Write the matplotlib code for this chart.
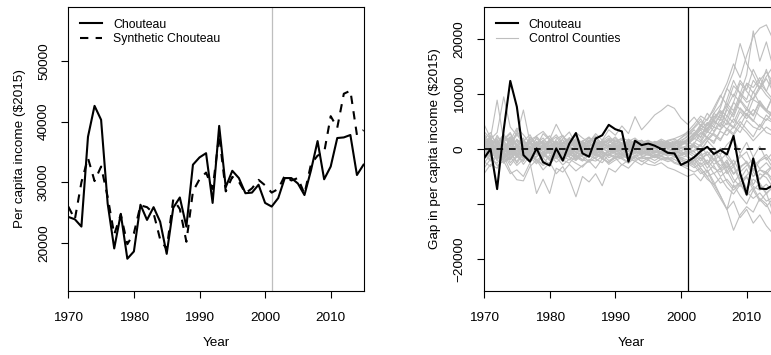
import numpy as np
import matplotlib
matplotlib.use("Agg")
import matplotlib.pyplot as plt

plt.rcParams['font.family'] = ['Liberation Sans', 'DejaVu Sans']

years = list(range(1970, 2016))
treat_year = 2001

# per capita income, $2015
chouteau = [24300, 23900, 22700, 37500, 42600, 40300, 26500, 19100, 24800, 17400,
            18600, 26300, 23800, 25900, 23500, 18200, 25800, 27500, 22700, 32900,
            34100, 34800, 26600, 39300, 29200, 31900, 30700, 28200, 28300, 29600,
            26600, 26000, 27400, 30700, 30700, 29800, 27900, 32000, 36800, 30500,
            32600, 37300, 37400, 37800, 31200, 32900]
synthetic = [26000, 23900, 30000, 34000, 30200, 32600, 27600, 21400, 24700, 19800,
             21600, 26200, 25900, 24900, 20600, 19000, 27200, 25600, 20200, 28500,
             30500, 31600, 28900, 37800, 28500, 30900, 30100, 28200, 29000, 30400,
             29500, 28300, 28900, 31100, 30300, 30700, 28100, 33000, 34400, 34900,
             40900, 39000, 44600, 45100, 37800, 38600]

# placebo gaps for the control counties, $1000s (1970-2015)
control_gaps = [
    [1.5, 0.8, 2.1, 1.0, -0.5, 1.8, 0.6, -1.2, 0.9, 1.4, 0.2, -0.6, 1.1, 0.5, 1.9, 0.7, -0.3, 1.2, 0.8, 1.5, 0.4, 1.0, -0.2, 1.3, 0.6, 0.9, 1.1, 0.3, 1.4, 1.8, 1.2, 0.8,
     2.5, 4.0, 5.5, 7.0, 9.5, 12.0, 15.5, 13.0, 17.0, 20.5, 22.0, 22.6, 20.0, 21.5],
    [-0.8, 1.6, -1.0, 2.4, 0.5, -1.5, 1.2, 0.4, -0.9, 1.0, -0.4, 1.3, 0.2, -1.1, 0.6, 1.5, 0.1, -0.7, 1.6, 0.9, -0.2, 0.5, 1.1, -0.6, 0.8, 0.2, -0.5, 0.7, 0.1, -0.3, 0.9, 1.5,
     3.0, 2.2, 4.5, 6.0, 5.2, 9.0, 12.5, 10.0, 13.5, 21.5, 16.0, 19.5, 15.0, 17.0],
    [2.6, -1.2, 0.9, 1.8, 3.0, 0.4, -0.8, 1.9, 0.6, -1.3, 1.7, 0.8, -0.2, 2.1, 1.0, -0.9, 1.4, 2.0, 0.3, 1.2, 2.2, 0.9, 0.1, 1.6, 1.1, 0.5, 0.9, 1.3, 0.7, 1.0, 2.0, 2.8,
     4.0, 5.5, 3.5, 6.5, 8.0, 11.0, 14.0, 19.2, 15.5, 13.5, 11.0, 14.5, 10.5, 12.0],
    [-1.5, 0.3, -2.2, 0.8, -1.0, -0.2, -1.8, 0.5, -0.6, -1.4, 0.1, -1.1, -0.5, 0.6, -1.9, -0.4, -1.0, 0.3, -0.8, -1.2, 0.2, -0.6, -1.3, -0.3, -0.9, -0.1, -0.7, -0.4, -1.0, -0.6, 0.1, -0.5,
     1.0, 2.8, 3.5, 5.0, 4.2, 7.5, 10.0, 8.5, 12.0, 11.2, 13.0, 10.5, 9.0, 11.5],
    [0.9, 2.0, -0.5, 1.3, 2.2, -1.0, 0.4, 1.1, -0.3, 0.7, 1.5, -0.8, 0.9, 1.8, 0.1, 0.6, 1.3, -0.4, 0.8, 0.3, 1.0, 1.6, 0.4, 0.9, -0.2, 0.6, 1.2, 0.5, 0.8, 0.2, 0.7, 1.9,
     2.8, 4.2, 3.6, 5.5, 6.8, 5.0, 8.5, 7.2, 6.0, 9.0, 8.2, 7.0, 6.5, 8.0],
    [-0.4, -2.0, 1.0, -1.5, -0.2, -2.6, -0.9, -1.7, 0.2, -1.0, -2.1, -0.3, -1.4, -0.8, -1.9, 0.1, -1.2, -0.6, -1.6, -0.9, -0.3, -1.1, -1.5, -0.7, -0.2, -0.9, -1.3, -0.6, -0.4, -1.0, -1.8, -2.4,
     -3.0, -4.5, -3.8, -6.0, -8.5, -11.0, -9.5, -12.5, -11.0, -13.5, -12.0, -14.0, -15.4, -13.0],
    [1.2, -0.6, -1.8, 0.4, 1.5, -0.9, -2.3, 0.6, -1.1, 0.2, -0.7, -1.6, 0.8, -0.4, -1.2, 0.5, -0.8, 1.0, -0.5, -1.3, 0.6, -0.2, -0.9, 0.4, -0.6, -0.3, 0.2, -0.8, -0.5, -1.1, -1.6, -1.2,
     -2.5, -4.0, -5.5, -6.5, -8.5, -11.0, -14.8, -12.0, -10.5, -11.5, -9.0, -10.0, -12.5, -9.5],
    [-2.0, 0.5, 1.6, -0.8, -1.9, 0.9, -0.2, -1.4, 1.2, -0.6, 0.3, -1.0, -2.2, 0.7, -0.5, -1.3, 0.4, -0.9, -1.8, 0.2, -0.7, -1.2, 0.1, -0.6, -1.0, -0.4, 0.2, -0.7, -1.1, -0.8, -0.3, -1.5,
     -1.8, -3.5, -5.0, -7.0, -9.0, -11.0, -6.5, -8.5, -10.0, -7.5, -9.5, -8.0, -11.5, -10.5],
    [4.5, 2.0, 8.9, 1.5, -1.0, 3.5, 0.8, -0.9, 2.2, 1.0, -0.5, 1.8, 2.5, 0.4, 1.3, -0.2, 1.0, 2.4, 0.7, 1.6, 0.9, -0.3, 1.4, 0.8, 1.1, 0.3, 0.9, 1.5, 0.6, 1.2, 2.0, 3.2,
     4.5, 6.0, 5.2, 7.5, 9.8, 8.0, 11.5, 10.2, 9.0, 12.5, 11.0, 12.8, 10.5, 11.8],
    [-0.5, 1.8, 3.0, 9.5, 4.0, 2.5, 7.1, 1.2, 0.5, 2.8, 1.6, 0.2, 1.9, 3.1, 0.8, 1.4, 2.2, 0.6, 1.5, 2.4, 1.1, 0.4, 1.8, 1.0, 1.6, 0.7, 1.2, 0.8, 1.4, 0.5, 1.1, 1.8,
     2.5, 3.8, 3.0, 4.6, 6.2, 5.1, 4.0, 6.8, 5.5, 7.2, 6.0, 5.2, 6.8, 7.5],
    [-4.5, -2.8, -3.5, -1.2, -4.0, -5.6, -5.8, -3.2, -2.0, -3.8, -2.5, -1.5, -2.9, -1.8, -2.6, -3.3, -1.9, -2.2, -1.4, -2.8, -2.0, -1.6, -2.4, -1.1, -1.8, -1.5, -2.1, -1.3, -1.7, -2.6, -3.0, -3.6,
     -4.2, -3.5, -5.0, -4.4, -6.2, -5.5, -7.0, -6.1, -5.2, -6.8, -7.5, -6.4, -7.8, -6.9],
    [1.0, -1.5, -3.0, -2.2, -4.5, -3.8, -5.0, -2.5, -8.1, -5.5, -8.1, -3.5, -4.2, -2.8, -4.0, -3.0, -2.2, -3.5, -1.8, -2.5, -1.6, -2.9, -2.0, -1.4, -2.3, -1.7, -1.2, -2.0, -1.5, -2.4, -2.8, -3.2,
     -1.5, -0.5, -2.8, -1.0, -3.5, -2.0, -4.5, -3.2, -2.5, -5.0, -3.8, -4.6, -3.0, -4.2],
    [0.3, -1.0, -0.5, -2.1, -1.5, -0.8, -2.8, -1.2, -2.0, -3.0, -2.4, -4.5, -3.2, -5.5, -8.7, -5.0, -6.0, -4.5, -6.7, -3.5, -4.2, -2.8, -3.5, -2.2, -2.9, -2.0, -2.6, -1.8, -2.3, -1.9, -2.7, -3.0,
     -2.2, -1.0, -2.8, -0.5, -1.8, -3.5, -2.0, -4.2, -3.0, -1.8, -3.6, -2.5, -4.0, -3.2],
    [1.8, 3.0, 0.5, 2.2, 1.5, 3.8, 2.6, 1.0, 2.4, 3.2, 1.8, 4.5, 2.2, 1.4, 3.0, 2.0, 1.2, 2.8, 1.6, 3.5, 2.5, 4.2, 2.8, 5.9, 3.5, 4.8, 6.2, 7.0, 8.0, 7.4, 5.6, 4.5,
     5.8, 4.2, 6.5, 5.0, 7.5, 11.0, 9.5, 12.5, 10.8, 14.5, 12.0, 10.5, 13.5, 12.2],
    [-1.0, 0.5, -1.8, -0.3, -2.5, -1.2, -0.6, -2.0, -1.4, -0.5, -1.9, -1.0, -2.3, -0.8, -1.5, -2.2, -1.1, -0.4, -1.7, -2.4, -1.2, -1.8, -2.6, -1.5, -2.2, -2.8, -3.0, -2.5, -3.4, -3.8, -4.4, -5.0,
     -4.5, -5.8, -4.0, -6.5, -5.2, -7.0, -8.2, -6.5, -7.8, -9.0, -8.0, -9.5, -8.8, -10.2],
    [0.6, -0.9, 1.4, 0.2, -0.5, 0.9, -1.1, 0.4, 1.0, -0.2, 0.7, 0.3, -0.8, 1.2, 0.1, -0.6, 0.8, 0.4, -0.3, 0.9, 0.2, 0.6, -0.4, 0.7, 0.3, 0.1, 0.5, -0.2, 0.4, 0.8, 0.3, -0.1,
     1.2, 0.5, 2.0, 1.4, 3.2, 2.5, 4.1, 3.0, 5.2, 4.0, 3.5, 5.5, 4.8, 6.0],
    [-1.2, 0.8, -0.4, -1.6, 0.5, -0.9, 0.3, -1.3, -0.2, 0.9, -0.7, -1.4, 0.2, -0.5, -1.0, 0.6, -0.3, -1.2, 0.4, -0.8, -0.5, 0.1, -0.9, -0.3, -0.6, 0.2, -0.4, -0.8, -0.1, -0.5, -0.9, -0.4,
     -1.0, -2.2, -0.5, -1.8, -3.0, -2.4, -4.5, -3.2, -2.5, -5.0, -3.8, -4.2, -5.5, -4.8],
    [2.2, 1.0, -0.6, 1.5, 2.8, 0.3, 1.6, -0.4, 1.1, 2.0, 0.5, 1.4, -0.2, 1.0, 1.8, 0.6, 1.2, -0.1, 0.9, 1.7, 0.8, 0.2, 1.3, 0.6, 0.9, 1.4, 0.7, 1.1, 0.4, 0.9, 1.6, 2.2,
     3.5, 2.0, 4.8, 3.2, 5.5, 4.4, 6.8, 9.0, 7.5, 6.2, 8.8, 7.0, 9.5, 8.2],
    [-2.6, -1.0, 0.2, -1.8, -0.7, -2.3, -0.4, -1.5, -2.7, -0.8, -1.6, 0.0, -1.3, -2.0, -0.6, -1.4, -2.2, -0.9, -0.3, -1.6, -1.0, -0.7, -1.9, -1.2, -0.5, -1.1, -1.5, -0.8, -1.3, -0.9, -1.6, -2.0,
     -2.8, -1.5, -3.5, -2.0, -1.2, -4.0, -2.8, -5.5, -3.6, -6.5, -4.5, -5.2, -7.0, -5.8],
    [0.1, 1.5, 0.8, -0.9, 1.9, 0.6, -0.5, 1.3, 0.2, 1.6, 0.9, -0.1, 1.2, 0.4, -0.7, 1.0, 0.3, 1.5, 0.6, -0.2, 0.9, 1.2, 0.5, -0.1, 0.8, 0.4, 1.0, 0.6, 0.2, 0.5, 0.9, 1.0,
     1.8, 3.0, 2.2, 4.0, 3.5, 6.0, 4.8, 7.5, 6.2, 5.0, 8.0, 6.8, 5.8, 7.2],
    [1.6, -0.3, 2.5, 0.7, -1.2, 1.1, 2.0, -0.8, 0.6, 1.3, -0.5, 0.8, 1.7, -0.2, 0.4, 1.2, -0.6, 0.9, 1.4, 0.0, 0.6, -0.3, 1.0, 0.4, -0.2, 0.6, 0.3, -0.1, 0.7, 0.2, -0.4, 0.5,
     0.8, -0.5, 1.5, 0.2, -1.0, 0.8, 2.0, -0.8, 1.2, -1.5, 0.5, -2.0, -0.6, -1.2],
    [-0.9, -2.2, -1.1, 0.5, -1.7, -0.2, -1.3, -2.4, -0.6, -1.0, -1.8, -0.4, -0.9, -1.5, -2.1, -0.7, -1.2, -1.8, -0.5, -1.1, -1.4, -0.9, -0.4, -1.3, -1.0, -0.6, -0.9, -1.2, -0.8, -1.4, -1.1, -0.6,
     -1.5, -2.8, -2.0, -3.5, -4.2, -3.0, -5.5, -6.8, -5.0, -7.5, -6.2, -8.0, -7.0, -8.6],
    [3.2, 1.8, 0.9, 2.6, 1.2, 2.9, 0.5, 1.7, 2.3, 0.8, 1.5, 2.6, 1.0, 1.9, 0.6, 1.4, 2.1, 1.1, 0.7, 1.8, 1.3, 2.0, 1.5, 0.9, 1.2, 1.6, 0.8, 1.3, 1.0, 1.5, 1.2, 2.5,
     3.8, 5.0, 4.2, 6.5, 5.6, 8.2, 7.0, 10.0, 8.5, 9.2, 11.5, 9.8, 8.6, 10.8],
    [-3.5, -1.8, -2.6, -0.9, -3.0, -1.4, -2.2, -0.6, -1.9, -2.8, -1.1, -2.4, -1.6, -0.5, -2.0, -1.2, -0.4, -1.8, -2.5, -1.0, -1.7, -1.3, -0.8, -1.9, -1.4, -1.0, -1.6, -1.1, -0.7, -1.2, -1.9, -2.6,
     -3.4, -2.5, -4.2, -3.0, -5.0, -4.0, -6.2, -4.5, -7.2, -5.5, -6.5, -8.2, -6.8, -7.5],
    [0.4, 1.2, -1.4, 0.9, 0.0, 1.7, 0.5, -0.9, 1.4, 0.3, -0.4, 1.1, 0.6, -0.3, 0.9, 1.3, 0.2, -0.5, 1.1, 0.5, 0.0, 0.8, 0.3, 1.0, 0.4, -0.1, 0.6, 0.2, 0.8, 0.3, 0.1, 0.7,
     2.0, 1.2, 3.2, 2.5, 1.5, 3.8, 2.8, 5.0, 3.6, 2.2, 4.5, 3.0, 2.5, 3.8],
    [-0.2, 0.9, -1.6, -0.5, 0.8, -1.3, 0.1, -0.7, -1.5, 0.4, -0.9, -0.3, 0.6, -1.1, -0.4, 0.3, -0.9, 0.0, -1.2, -0.5, 0.2, -0.6, -0.2, -0.9, 0.1, -0.4, -0.7, 0.0, -0.5, -0.2, -0.8, -0.3,
     0.5, -1.2, -0.5, -2.0, 0.2, -1.5, -3.0, -1.0, -2.5, -4.0, -2.2, -1.5, -3.5, -2.8],
    [1.9, 0.2, 1.1, 2.7, 0.6, 1.5, -0.2, 2.2, 0.9, 0.1, 1.8, 1.0, 2.4, 0.3, 1.6, 0.8, 2.0, 1.3, 0.4, 1.1, 1.9, 0.6, 1.4, 2.0, 0.9, 1.5, 1.1, 1.8, 1.2, 0.8, 1.4, 1.0,
     2.2, 3.5, 4.8, 4.0, 6.5, 7.8, 6.2, 9.5, 11.8, 10.2, 12.5, 14.0, 12.2, 13.5],
    [-1.8, -0.4, 0.5, -2.4, -1.1, 0.2, -1.6, -0.3, -2.0, -1.2, 0.4, -0.8, -1.7, -0.1, -1.3, -2.0, -0.5, -1.0, -1.5, -0.3, -0.8, -1.6, -1.1, -0.5, -1.2, -1.7, -1.0, -1.4, -1.8, -1.3, -2.2, -2.8,
     -2.0, -3.2, -2.5, -4.5, -3.5, -6.0, -7.5, -6.2, -8.5, -7.0, -9.2, -10.5, -9.0, -10.0],
    [0.8, 2.4, 1.2, -0.2, 1.0, 2.5, 1.6, 0.3, 1.9, 0.7, 1.3, 2.2, 0.5, 1.4, 2.3, 0.9, 1.6, 0.4, 1.2, 2.0, 1.5, 1.0, 0.6, 1.7, 1.3, 0.8, 1.4, 1.0, 1.6, 1.9, 2.4, 3.0,
     2.6, 4.5, 3.2, 5.8, 7.0, 6.0, 8.5, 12.0, 10.5, 9.0, 11.0, 13.2, 15.0, 14.0],
    [-0.6, -1.4, 0.3, -1.0, -2.0, -0.5, -1.2, 0.2, -0.8, -1.6, -0.3, -1.0, -0.5, -1.4, 0.1, -0.9, -1.5, -0.2, -0.7, -1.2, -0.6, -0.2, -1.0, -0.5, -0.8, -1.1, -0.3, -0.6, -0.9, -0.4, -0.7, -1.0,
     0.8, -0.2, 1.5, 2.8, 1.8, 3.5, 2.5, 4.2, 3.0, 1.5, 2.8, 4.0, 3.2, 2.2],
    [2.8, 0.9, 1.8, -0.4, 2.2, 0.8, 1.4, 2.6, 0.4, 1.5, 2.4, 0.7, 1.2, 2.0, 1.1, 0.2, 1.6, 2.2, 0.9, 0.5, 1.4, 1.8, 0.7, 1.2, 1.6, 0.6, 1.0, 1.5, 0.9, 1.3, 0.6, 1.4,
     2.8, 1.5, 3.8, 5.2, 4.0, 7.2, 5.8, 8.8, 7.0, 10.5, 8.2, 7.0, 9.8, 8.8],
    [-1.3, 0.2, -0.8, -2.0, -0.2, -1.5, -0.6, -1.9, 0.1, -1.1, -0.4, -1.8, -0.9, 0.2, -1.4, -0.7, -0.1, -1.3, -0.6, -1.0, -0.2, -0.9, -1.4, -0.6, -0.3, -0.8, -1.2, -0.5, -0.9, -0.6, -1.3, -0.7,
     -0.5, -1.8, -1.0, -2.8, -2.0, -4.5, -3.2, -6.0, -4.8, -3.5, -5.5, -4.2, -6.2, -5.0],
    [0.0, -0.7, 0.9, 1.6, -0.4, 0.5, 1.3, -0.2, 0.7, -0.6, 1.2, 0.4, -0.3, 0.8, 1.5, 0.0, 0.6, 1.1, -0.2, 0.7, 0.3, -0.1, 0.8, 0.4, 0.0, 0.6, 0.2, 0.9, 0.5, 0.1, 0.4, 0.2,
     -0.5, 0.8, -1.2, 0.2, -2.0, -0.8, -2.8, -1.5, -0.5, -3.2, -2.0, -1.0, -2.6, -1.8],
    [-2.3, -3.2, -1.0, -2.6, -1.4, -3.0, -1.8, -0.8, -2.4, -1.6, -2.9, -1.2, -2.0, -2.6, -1.1, -1.9, -2.4, -1.5, -1.0, -2.1, -1.6, -1.2, -1.8, -2.2, -1.5, -1.9, -1.4, -1.7, -2.0, -1.6, -1.0, -0.8,
     -0.2, 0.9, 2.2, 1.0, 3.5, 4.8, 3.8, 5.5, 7.2, 6.0, 8.5, 7.2, 6.0, 7.5],
    [1.1, -0.2, 0.6, -1.0, 0.9, 0.2, -0.6, 1.0, -0.3, 0.5, -0.9, 0.3, 0.8, -0.5, 0.2, 0.9, -0.4, 0.5, 0.1, -0.6, 0.4, 0.8, 0.0, 0.3, 0.6, -0.2, 0.4, 0.7, 0.1, 0.5, 0.9, 1.3,
     2.2, 3.5, 1.8, 3.0, 4.8, 3.6, 5.5, 4.2, 6.5, 5.2, 4.0, 6.2, 5.0, 6.8],
    [0.7, 1.9, -0.8, 0.3, 1.4, -0.4, 0.8, 1.6, -0.6, 0.9, 0.2, 1.5, -0.1, 0.6, 1.0, 0.4, -0.5, 0.8, 1.3, 0.1, 0.5, 0.9, -0.3, 0.4, 0.7, 0.2, 0.0, 0.4, 0.6, 0.9, 1.1, 1.6,
     0.4, -1.0, -2.5, -1.8, -3.8, -2.6, -4.6, -3.5, -2.2, -4.2, -5.5, -4.0, -3.0, -4.8],
]

gap = np.array(chouteau) - np.array(synthetic)

W, H = 771, 355
fig = plt.figure(figsize=(W / 100, H / 100), dpi=100)

FS = 9.7
LEG_FS = 8.8


def style_axes(ax):
    for s in ax.spines.values():
        s.set_linewidth(0.8)
    ax.tick_params(direction='out', length=5.2, width=0.8, pad=10, labelsize=FS)
    ax.tick_params(axis='y', pad=8)
    for lab in ax.get_yticklabels():
        lab.set_rotation(90)
        lab.set_va('center')


# left panel: actual vs synthetic
ax1 = fig.add_axes([68.3 / W, (H - 290.7) / H, (363.5 - 68.3) / W, 283.4 / H])
ax1.axvline(treat_year, color='#bebebe', lw=0.9)
ax1.plot(years, chouteau, color='black', lw=1.5, label='Chouteau')
ax1.plot(years, synthetic, color='black', lw=1.5, dashes=(4, 3.5), label='Synthetic Chouteau')
ax1.set_xlim(1970, 2015)
ax1.set_ylim(12130, 58850)
ax1.set_xticks([1970, 1980, 1990, 2000, 2010])
ax1.set_yticks([20000, 30000, 40000, 50000])
ax1.set_xlabel('Year', fontsize=FS)
ax1.set_ylabel('Per capita income ($2015)', fontsize=FS)
ax1.xaxis.set_label_coords(0.5, -0.165)
ax1.yaxis.set_label_coords(-0.143, 0.5)
style_axes(ax1)
ax1.legend(loc='upper left', bbox_to_anchor=(0.04, 0.96), frameon=False, fontsize=LEG_FS,
           handlelength=1.8, handletextpad=0.9, labelspacing=0.2, borderpad=0, borderaxespad=0)

# right panel: gaps for Chouteau and placebo counties
ax2 = fig.add_axes([484 / W, (H - 290.7) / H, (779.5 - 484) / W, 283.4 / H])
for i, g in enumerate(control_gaps):
    ax2.plot(years, np.array(g) * 1000, color='#bebebe', lw=0.8,
             label='Control Counties' if i == 0 else None)
ax2.axhline(0, color='black', lw=1.2, dashes=(4, 3.5))
ax2.plot(years, gap, color='black', lw=1.5, label='Chouteau')
ax2.axvline(treat_year, color='black', lw=0.9)
ax2.set_xlim(1970, 2015)
ax2.set_ylim(-25800, 25800)
ax2.set_xticks([1970, 1980, 1990, 2000, 2010])
ax2.set_yticks([-20000, -10000, 0, 10000, 20000])
ax2.set_yticklabels(['\u221220000', '', '0', '10000', '20000'])
ax2.set_xlabel('Year', fontsize=FS)
ax2.set_ylabel('Gap in per capita income ($2015)', fontsize=FS)
ax2.xaxis.set_label_coords(0.5, -0.165)
ax2.yaxis.set_label_coords(-0.146, 0.5)
style_axes(ax2)
h, l = ax2.get_legend_handles_labels()
order = [l.index('Chouteau'), l.index('Control Counties')]
ax2.legend([h[k] for k in order], [l[k] for k in order], loc='upper left',
           bbox_to_anchor=(0.04, 0.96), frameon=False, fontsize=LEG_FS,
           handlelength=1.8, handletextpad=0.9, labelspacing=0.2, borderpad=0, borderaxespad=0)

fig.savefig('out.png', dpi=100)
